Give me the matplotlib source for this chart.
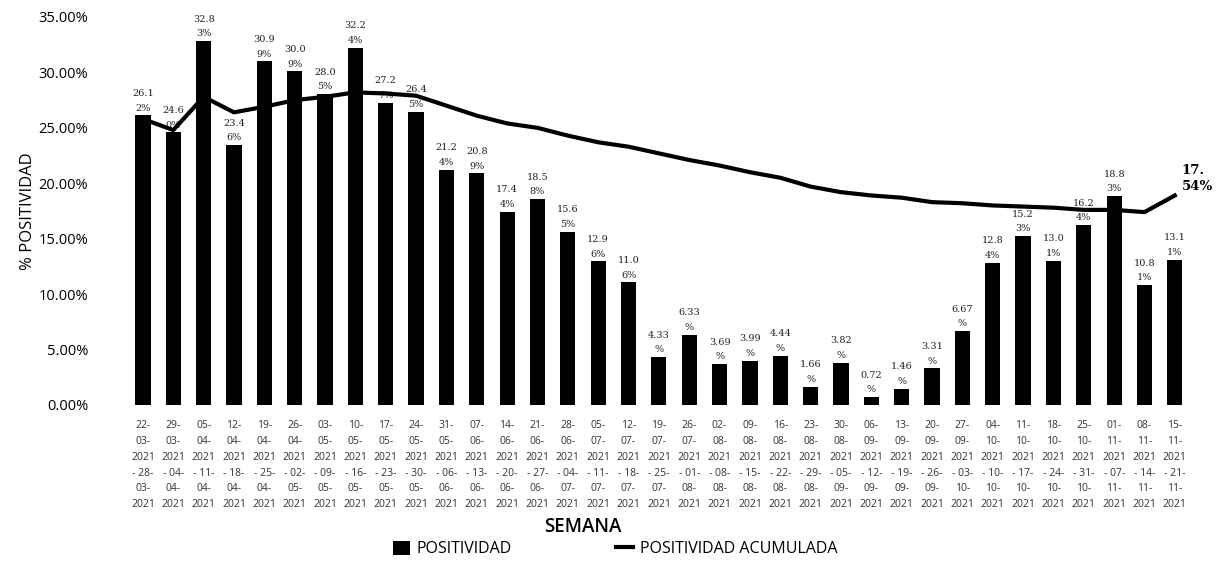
import matplotlib
matplotlib.use('Agg')
import matplotlib.pyplot as plt
import numpy as np

plt.rcParams['font.family'] = ['Open Sans', 'DejaVu Sans']

# semanas epidemiologicas (inicio - fin)
semanas = [
    '22-03-2021 - 28-03-2021', '29-03-2021 - 04-04-2021', '05-04-2021 - 11-04-2021',
    '12-04-2021 - 18-04-2021', '19-04-2021 - 25-04-2021', '26-04-2021 - 02-05-2021',
    '03-05-2021 - 09-05-2021', '10-05-2021 - 16-05-2021', '17-05-2021 - 23-05-2021',
    '24-05-2021 - 30-05-2021', '31-05-2021 - 06-06-2021', '07-06-2021 - 13-06-2021',
    '14-06-2021 - 20-06-2021', '21-06-2021 - 27-06-2021', '28-06-2021 - 04-07-2021',
    '05-07-2021 - 11-07-2021', '12-07-2021 - 18-07-2021', '19-07-2021 - 25-07-2021',
    '26-07-2021 - 01-08-2021', '02-08-2021 - 08-08-2021', '09-08-2021 - 15-08-2021',
    '16-08-2021 - 22-08-2021', '23-08-2021 - 29-08-2021', '30-08-2021 - 05-09-2021',
    '06-09-2021 - 12-09-2021', '13-09-2021 - 19-09-2021', '20-09-2021 - 26-09-2021',
    '27-09-2021 - 03-10-2021', '04-10-2021 - 10-10-2021', '11-10-2021 - 17-10-2021',
    '18-10-2021 - 24-10-2021', '25-10-2021 - 31-10-2021', '01-11-2021 - 07-11-2021',
    '08-11-2021 - 14-11-2021', '15-11-2021 - 21-11-2021',
]

positividad = [26.12, 24.60, 32.83, 23.46, 30.99, 30.09, 28.05, 32.24, 27.27, 26.45,
               21.24, 20.89, 17.44, 18.58, 15.65, 12.96, 11.06, 4.33, 6.33, 3.69,
               3.99, 4.44, 1.66, 3.82, 0.72, 1.46, 3.31, 6.67, 12.84, 15.23,
               13.01, 16.24, 18.83, 10.81, 13.11]

acumulada = [25.8, 24.8, 27.8, 26.4, 26.9, 27.5, 27.8, 28.2, 28.1, 27.9,
             27.0, 26.1, 25.4, 25.0, 24.3, 23.7, 23.3, 22.7, 22.1, 21.6,
             21.0, 20.5, 19.7, 19.2, 18.9, 18.7, 18.3, 18.2, 18.0, 17.9,
             17.8, 17.6, 17.6, 17.4, 18.9]
etiqueta_final = '17.\n54%'


def wrap_semana(s):
    a, b = s.split(' - ')
    d1, m1, y1 = a.split('-')
    d2, m2, y2 = b.split('-')
    return f'{d1}-\n{m1}-\n{y1}\n- {d2}-\n{m2}-\n{y2}'


def wrap_valor(v):
    s = f'{v:.2f}%'
    return s[:4] + '\n' + s[4:]


x = np.arange(len(semanas))
pos = np.array(positividad) / 100
acu = np.array(acumulada) / 100

fig = plt.figure(figsize=(12.17, 5.65), dpi=100)
ax = fig.add_axes([105 / 1217, 1 - 405 / 565, (1190 - 105) / 1217, (405 - 17) / 565])

barras = ax.bar(x, pos, width=0.5, color='black', zorder=2)
linea, = ax.plot(x, acu, color='black', lw=3, zorder=3)

for xi, v in zip(x, positividad):
    ax.annotate(wrap_valor(v), (xi, v / 100), xytext=(0, 2), textcoords='offset points',
                ha='center', va='bottom', fontsize=7, linespacing=1.8,
                family=['DejaVu Serif'], color='#222222', zorder=1)

ax.annotate(etiqueta_final, (x[-1], acu[-1]), xytext=(5, 2), textcoords='offset points',
            ha='left', va='bottom', fontsize=9.5, fontweight='bold',
            family=['DejaVu Serif'], linespacing=1.3, annotation_clip=False)

ax.set_xlim(-1.25, len(x) - 0.5)
ax.set_ylim(0, 0.35)
ax.set_yticks(np.arange(0, 0.351, 0.05))
ax.set_yticklabels([f'{t * 100:.2f}%' for t in np.arange(0, 0.351, 0.05)], fontsize=10.5)
ax.set_xticks(x)
ax.set_xticklabels([wrap_semana(s) for s in semanas], fontsize=7.5, linespacing=1.6,
                   color='#333333')
ax.tick_params(length=0)
ax.tick_params(axis='y', pad=12)
ax.tick_params(axis='x', pad=11)
for sp in ax.spines.values():
    sp.set_visible(False)

ax.set_ylabel('% POSITIVIDAD', fontsize=12, labelpad=2)
fig.text(583 / 1217, 1 - 527 / 565, 'SEMANA', ha='center', va='center', fontsize=13.5,
         fontweight='semibold')

fig.legend([barras, linea], ['POSITIVIDAD', 'POSITIVIDAD ACUMULADA'], loc='center',
           bbox_to_anchor=(615 / 1217, 1 - 549 / 565), ncol=2,
           frameon=False, fontsize=11.5, handlelength=1.1, handleheight=1.0,
           columnspacing=6.5, handletextpad=0.4)

fig.savefig('out.png', dpi=100)
